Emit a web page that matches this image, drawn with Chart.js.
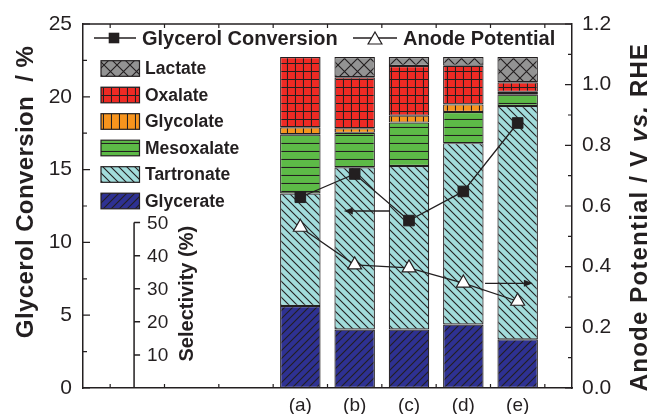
<!DOCTYPE html>
<html><head><meta charset="utf-8">
<script src="https://cdn.jsdelivr.net/npm/chart.js@4.4.0/dist/chart.umd.min.js"></script>
<style>html,body{margin:0;padding:0;background:#fff}#wrap{width:653px;height:414px;position:relative}</style>
</head><body><div id="wrap"><canvas id="c" width="653" height="414"></canvas></div>
<script>
// Product selectivity (%) for each electrolysis condition
const categories = ['(a)', '(b)', '(c)', '(d)', '(e)'];
const glycerate  = [24.8, 17.7, 17.7, 19.2, 14.7];
const tartronate = [34.0, 49.0, 49.4, 54.8, 70.5];
const mesoxalate = [17.9, 10.4, 13.1, 9.4, 3.6];
const glycolate  = [2.1, 1.4, 2.1, 2.3, 0.7];
const oxalate    = [21.2, 15.4, 15.0, 11.7, 2.9];
const lactate    = [0, 6.1, 2.7, 2.6, 7.6];
// Glycerol conversion (%) and anode potential (V vs. RHE)
const conversion = [13.1, 14.7, 11.5, 13.5, 18.2];
const potential  = [0.530, 0.406, 0.396, 0.346, 0.286];
// Tick values
const conversionTicks  = [0, 5, 10, 15, 20, 25];
const potentialTicks   = [0, 0.2, 0.4, 0.6, 0.8, 1.0, 1.2];
const selectivityTicks = [10, 20, 30, 40, 50];

const INK = '#231f20';
const FONT = '"Liberation Sans", Arial, Helvetica, sans-serif';
const firstSlot = 4;   // empty slots on the left hold the legend
const slotCount = 9;

const canvas = document.getElementById('c');
const ctx0 = canvas.getContext('2d');

function hatch(bg, kind) {
  const s = kind === 'cross' ? 13 : 8;
  const c = document.createElement('canvas');
  c.width = s; c.height = s;
  const g = c.getContext('2d');
  g.fillStyle = bg; g.fillRect(0, 0, s, s);
  g.strokeStyle = INK; g.lineWidth = 1.1;
  g.beginPath();
  if (kind === 'fwd') {
    g.moveTo(-1, s + 1); g.lineTo(s + 1, -1);
    g.moveTo(-1, 1); g.lineTo(1, -1);
    g.moveTo(s - 1, s + 1); g.lineTo(s + 1, s - 1);
  } else if (kind === 'back') {
    g.moveTo(-1, -1); g.lineTo(s + 1, s + 1);
    g.moveTo(s - 1, -1); g.lineTo(s + 1, 1);
    g.moveTo(-1, s - 1); g.lineTo(1, s + 1);
  } else if (kind === 'horiz') {
    g.moveTo(0, s - 0.5); g.lineTo(s, s - 0.5);
  } else if (kind === 'vert') {
    g.moveTo(s - 0.5, 0); g.lineTo(s - 0.5, s);
  } else if (kind === 'grid') {
    g.moveTo(0, s - 0.5); g.lineTo(s, s - 0.5);
    g.moveTo(s - 0.5, 0); g.lineTo(s - 0.5, s);
  } else if (kind === 'cross') {
    g.moveTo(-1, -1); g.lineTo(s + 1, s + 1);
    g.moveTo(s + 1, -1); g.lineTo(-1, s + 1);
  }
  g.stroke();
  return ctx0.createPattern(c, 'repeat');
}

const barSeries = [
  { label: 'Glycerate',  data: glycerate,  fill: hatch('#2e3192', 'fwd') },
  { label: 'Tartronate', data: tartronate, fill: hatch('#a2dcdb', 'back') },
  { label: 'Mesoxalate', data: mesoxalate, fill: hatch('#5dba47', 'horiz') },
  { label: 'Glycolate',  data: glycolate,  fill: hatch('#f7941d', 'vert') },
  { label: 'Oxalate',    data: oxalate,    fill: hatch('#ee2a24', 'grid') },
  { label: 'Lactate',    data: lactate,    fill: hatch('#939393', 'cross') }
];

const atSlot = arr => arr.map((v, i) => ({ x: firstSlot + i, y: v }));

const datasets = barSeries.map(s => ({
  type: 'bar', label: s.label, data: atSlot(s.data),
  backgroundColor: s.fill, borderColor: INK, borderWidth: 1.2, borderSkipped: false,
  xAxisID: 'x', yAxisID: 'ySel', order: 2,
  barPercentage: 0.745, categoryPercentage: 1
}));
datasets.push({
  type: 'line', label: 'Glycerol Conversion', data: atSlot(conversion),
  xAxisID: 'x', yAxisID: 'y', order: 0,
  borderColor: INK, borderWidth: 1.3, pointStyle: 'rect', pointRadius: 7.5,
  pointBackgroundColor: INK, pointBorderColor: INK, pointBorderWidth: 1
});
datasets.push({
  type: 'line', label: 'Anode Potential', data: atSlot(potential),
  xAxisID: 'x', yAxisID: 'y2', order: 0,
  borderColor: INK, borderWidth: 1.3, pointStyle: 'triangle', pointRadius: 8,
  pointBackgroundColor: '#ffffff', pointBorderColor: INK, pointBorderWidth: 1.2
});

function arrow(ctx, x1, y, x2) {
  const dir = Math.sign(x2 - x1);
  ctx.beginPath();
  ctx.moveTo(x1, y); ctx.lineTo(x2 - dir * 6, y);
  ctx.stroke();
  ctx.beginPath();
  ctx.moveTo(x2, y); ctx.lineTo(x2 - dir * 9, y - 3.5); ctx.lineTo(x2 - dir * 9, y + 3.5);
  ctx.closePath(); ctx.fill();
}

function rotatedText(ctx, parts, cx, cy, spacing) {
  ctx.save();
  ctx.translate(cx, cy); ctx.rotate(-Math.PI / 2);
  ctx.letterSpacing = (spacing || 0) + 'px';
  let total = 0;
  parts.forEach(p => { ctx.font = p.font; p.w = ctx.measureText(p.text).width; total += p.w; });
  let x = -total / 2;
  ctx.textAlign = 'left'; ctx.textBaseline = 'middle';
  parts.forEach(p => { ctx.font = p.font; ctx.fillText(p.text, x, 0); x += p.w; });
  ctx.restore();
}

const decorations = {
  id: 'decorations',
  afterDraw(chart) {
    const { ctx, chartArea: a, scales } = chart;
    const sx = scales.x, sy = scales.y, sy2 = scales.y2, ss = scales.ySel;
    ctx.save();
    ctx.strokeStyle = INK; ctx.fillStyle = INK; ctx.lineWidth = 1.5;

    // frame top edge
    ctx.beginPath(); ctx.moveTo(a.left, a.top); ctx.lineTo(a.right, a.top); ctx.stroke();

    // inward tick marks
    ctx.lineWidth = 1.2;
    ctx.beginPath();
    for (let v = 0; v <= 25; v += 2.5) {
      const y = sy.getPixelForValue(v);
      const len = (v % 5 === 0) ? 7 : 4;
      ctx.moveTo(a.left, y); ctx.lineTo(a.left + len, y);
    }
    for (let k = 0; k <= 12; k++) {
      const y = sy2.getPixelForValue(k / 10);
      const len = (k % 2 === 0) ? 7 : 4;
      ctx.moveTo(a.right, y); ctx.lineTo(a.right - len, y);
    }
    for (let k = 0.5; k < slotCount; k += 1) {
      const x = sx.getPixelForValue(k);
      ctx.moveTo(x, a.bottom); ctx.lineTo(x, a.bottom - 4);
      ctx.moveTo(x, a.top); ctx.lineTo(x, a.top + 4);
    }
    ctx.stroke();

    // selectivity axis inside the plot
    const selX = sx.getPixelForValue(0.94);
    ctx.lineWidth = 1.5;
    ctx.beginPath();
    ctx.moveTo(selX, a.bottom); ctx.lineTo(selX, ss.getPixelForValue(50));
    selectivityTicks.forEach(t => {
      const y = ss.getPixelForValue(t);
      ctx.moveTo(selX, y); ctx.lineTo(selX + 6, y);
    });
    ctx.stroke();
    ctx.font = '19px ' + FONT; ctx.textAlign = 'left'; ctx.textBaseline = 'middle';
    selectivityTicks.forEach(t => ctx.fillText(String(t), selX + 13, ss.getPixelForValue(t) + 1));
    rotatedText(ctx, [{ text: 'Selectivity (%)', font: 'bold 20px ' + FONT }], selX + 53, ss.getPixelForValue(28.5));

    // line legend
    const ly = a.top + 14;
    ctx.lineWidth = 1.3;
    ctx.beginPath(); ctx.moveTo(a.left + 11, ly); ctx.lineTo(a.left + 53, ly); ctx.stroke();
    ctx.fillRect(a.left + 31 - 5.3, ly - 5.3, 10.6, 10.6);
    ctx.font = 'bold 20px ' + FONT; ctx.textAlign = 'left'; ctx.textBaseline = 'middle';
    ctx.fillText('Glycerol Conversion', a.left + 59, ly + 1);
    ctx.beginPath(); ctx.moveTo(a.left + 270, ly); ctx.lineTo(a.left + 314, ly); ctx.stroke();
    const tx = a.left + 292, r = 8;
    ctx.beginPath();
    ctx.moveTo(tx, ly - r + 2); ctx.lineTo(tx + r * 0.866, ly + r / 2 + 2); ctx.lineTo(tx - r * 0.866, ly + r / 2 + 2);
    ctx.closePath(); ctx.fillStyle = '#fff'; ctx.fill(); ctx.lineWidth = 1.2; ctx.stroke();
    ctx.fillStyle = INK;
    ctx.fillText('Anode Potential', a.left + 320, ly + 1);

    // product legend (top to bottom: last series first)
    ctx.font = 'bold 17.5px ' + FONT;
    const order = barSeries.slice().reverse();
    order.forEach((s, i) => {
      const cy = a.top + 44.5 + i * 26.5;
      ctx.fillStyle = s.fill;
      ctx.fillRect(a.left + 18, cy - 7.8, 38.5, 15.6);
      ctx.lineWidth = 1.2; ctx.strokeStyle = INK;
      ctx.strokeRect(a.left + 18, cy - 7.8, 38.5, 15.6);
      ctx.fillStyle = INK;
      ctx.fillText(s.label, a.left + 62, cy + 1);
    });

    // arrows pointing to the axis each curve belongs to
    ctx.lineWidth = 1.4;
    arrow(ctx, sx.getPixelForValue(5.65), sy.getPixelForValue(12.16), sx.getPixelForValue(4.8));
    arrow(ctx, sx.getPixelForValue(7.4), sy2.getPixelForValue(0.345), sx.getPixelForValue(8.28));

    // axis titles
    ctx.fillStyle = INK;
    rotatedText(ctx, [{ text: 'Glycerol Conversion  / %', font: 'bold 24px ' + FONT }], 26, 192, 0.4);
    rotatedText(ctx, [
      { text: 'Anode Potential / V ', font: 'bold 24px ' + FONT },
      { text: 'vs.', font: 'italic bold 24px ' + FONT },
      { text: ' RHE', font: 'bold 24px ' + FONT }
    ], 640, 217, 1.2);
    ctx.restore();
  }
};

const tickFont = { family: FONT, size: 21 };

new Chart(canvas, {
  type: 'bar',
  data: { datasets },
  plugins: [decorations],
  options: {
    responsive: false,
    animation: false,
    events: [],
    layout: { padding: { top: 24, left: 0, right: 0, bottom: 0 } },
    plugins: { legend: { display: false }, tooltip: { enabled: false } },
    scales: {
      x: {
        type: 'linear', min: 0, max: slotCount, stacked: true, offset: false,
        grid: { display: false, drawTicks: false },
        border: { display: true, color: INK, width: 1.5 },
        ticks: {
          stepSize: 1, autoSkip: false, padding: 6, maxRotation: 0,
          font: { family: FONT, size: 19 }, color: INK,
          callback: v => categories[Math.round(v) - firstSlot] || ''
        },
        afterFit: s => { s.height = 26; }
      },
      y: {
        position: 'left', min: 0, max: 25,
        grid: { display: false, drawTicks: false },
        border: { display: true, color: INK, width: 1.5 },
        ticks: { padding: 11, font: tickFont, color: INK },
        afterBuildTicks: s => { s.ticks = conversionTicks.map(v => ({ value: v })); },
        afterFit: s => { s.width = 83; }
      },
      y2: {
        position: 'right', min: 0, max: 1.2,
        grid: { display: false, drawTicks: false },
        border: { display: true, color: INK, width: 1.5 },
        ticks: { padding: 10, font: tickFont, color: INK, callback: v => Number(v).toFixed(1) },
        afterBuildTicks: s => { s.ticks = potentialTicks.map(v => ({ value: v })); },
        afterFit: s => { s.width = 81; }
      },
      ySel: { display: false, min: 0, max: 110, stacked: true }
    }
  }
});
</script>
</body></html>
